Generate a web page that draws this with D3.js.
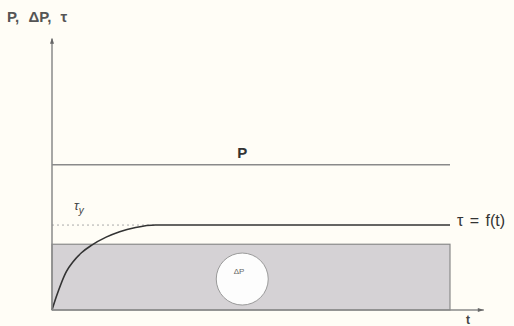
<!DOCTYPE html>
<html lang="en">
<head>
  <meta charset="UTF-8">
  <script src="https://d3js.org/d3.v7.min.js"></script>
  <style>
    body {
      margin: 0;
      padding: 0;
      overflow: hidden;
      background: #fffdf6;
      font-family: "Liberation Sans", Arial, sans-serif;
    }
  </style>
</head>
<body>
  <script>
    // time axis (arbitrary units) and level values
    const tEnd = 10;
    const pLevel = 53;       // P
    const tauY = 31;         // yield stress level
    const deltaP = 24;       // ΔP block height

    // tau = f(t) build-up points
    const curveT = [0, 0.11, 0.23, 0.36, 0.53, 0.74, 1.0, 1.36, 1.7, 2.1, 2.6, 10];
    const curveTau = [0, 4.9, 9.7, 14, 17.6, 20.9, 23.7, 26.6, 28.6, 30.1, 31, 31];

    const W = 514, H = 326;

    const svg = d3.select('body').append('svg')
      .attr('width', W)
      .attr('height', H);

    const x = d3.scaleLinear().domain([0, tEnd]).range([52, 450]);
    const y = d3.scaleLinear().domain([0, 100]).range([310, 36]);

    // ΔP block
    svg.append('rect')
      .attr('x', x(0))
      .attr('y', y(deltaP))
      .attr('width', x(tEnd) - x(0))
      .attr('height', y(0) - y(deltaP))
      .attr('fill', '#d5d2d5')
      .attr('stroke', '#8a8a8a')
      .attr('stroke-width', 1.2);

    // circle with ΔP
    svg.append('circle')
      .attr('cx', x(4.78))
      .attr('cy', y(11.3))
      .attr('r', 26)
      .attr('fill', '#fdfdfd')
      .attr('stroke', '#9a9a9a')
      .attr('stroke-width', 1);

    svg.append('text')
      .attr('x', x(4.7))
      .attr('y', y(13.2))
      .attr('text-anchor', 'middle')
      .attr('font-size', 8)
      .attr('fill', '#666')
      .text('ΔP');

    // P line
    svg.append('line')
      .attr('x1', x(0)).attr('x2', x(tEnd))
      .attr('y1', y(pLevel)).attr('y2', y(pLevel))
      .attr('stroke', '#8a8a8a')
      .attr('stroke-width', 1.5);

    svg.append('text')
      .attr('x', x(4.78))
      .attr('y', y(pLevel) - 7)
      .attr('text-anchor', 'middle')
      .attr('font-size', 15)
      .attr('font-weight', 'bold')
      .attr('fill', '#333')
      .text('P');

    // dotted yield line
    svg.append('line')
      .attr('x1', x(0)).attr('x2', x(2.6))
      .attr('y1', y(tauY)).attr('y2', y(tauY))
      .attr('stroke', '#aaa')
      .attr('stroke-width', 1)
      .attr('stroke-dasharray', '2,3');

    svg.append('text')
      .attr('x', x(0.55))
      .attr('y', y(tauY) - 15)
      .attr('font-size', 13)
      .attr('font-style', 'italic')
      .attr('fill', '#444')
      .text('τ')
      .append('tspan')
      .attr('dy', 4)
      .attr('font-size', 10)
      .text('y');

    // tau curve
    const line = d3.line()
      .x((d, i) => x(curveT[i]))
      .y(d => y(d))
      .curve(d3.curveMonotoneX);

    svg.append('path')
      .datum(curveTau)
      .attr('d', line)
      .attr('fill', 'none')
      .attr('stroke', '#333')
      .attr('stroke-width', 1.6);

    svg.append('text')
      .attr('x', x(tEnd) + 7)
      .attr('y', y(tauY) + 1)
      .attr('font-size', 16)
      .attr('fill', '#333')
      .attr('word-spacing', 2)
      .text('τ = f(t)');

    // axes
    const axisColor = '#8a8a8a';
    svg.append('line')
      .attr('x1', x(0)).attr('x2', x(0))
      .attr('y1', y(0)).attr('y2', y(99))
      .attr('stroke', axisColor)
      .attr('stroke-width', 1.5);
    svg.append('path')
      .attr('d', `M${x(0) - 2},${y(99) + 5}L${x(0)},${y(99) - 1}L${x(0) + 2},${y(99) + 5}Z`)
      .attr('fill', '#666');

    svg.append('line')
      .attr('x1', x(0)).attr('x2', x(10.85))
      .attr('y1', y(0)).attr('y2', y(0))
      .attr('stroke', axisColor)
      .attr('stroke-width', 1.5);
    svg.append('path')
      .attr('d', `M${x(10.85) - 6},${y(0) - 2}L${x(10.85)},${y(0)}L${x(10.85) - 6},${y(0) + 2}Z`)
      .attr('fill', '#666');

    svg.append('text')
      .attr('x', x(10.45))
      .attr('y', 324)
      .attr('text-anchor', 'middle')
      .attr('font-size', 12)
      .attr('font-weight', 'bold')
      .attr('fill', '#444')
      .text('t');

    svg.append('text')
      .attr('x', 7)
      .attr('y', 22)
      .attr('font-size', 15)
      .attr('font-weight', 'bold')
      .attr('fill', '#555')
      .attr('word-spacing', 5)
      .text('P, ΔP, τ');
  </script>
</body>
</html>
